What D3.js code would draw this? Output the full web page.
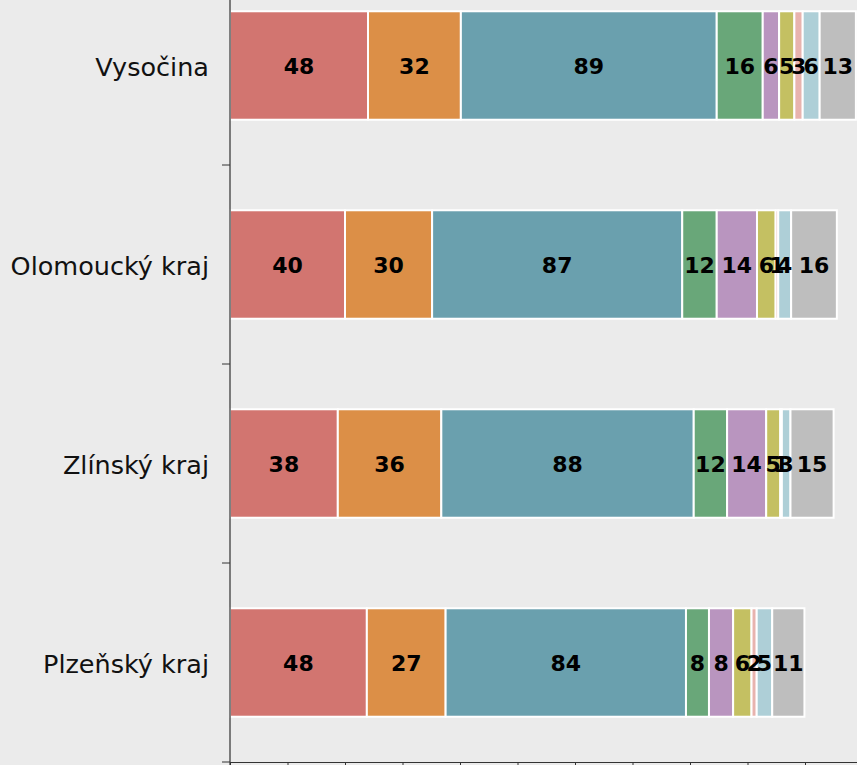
<!DOCTYPE html>
<html>
<head>
<meta charset="utf-8">
<script src="https://cdn.jsdelivr.net/npm/d3@7"></script>
<style>
  html, body { margin: 0; padding: 0; background: #ebebeb; overflow: hidden; }
  svg { display: block; }
  .cat-label { font-family: "DejaVu Sans", Verdana, sans-serif; font-size: 25.5px; fill: #111; }
  .val-label { font-family: "DejaVu Sans", Verdana, sans-serif; font-size: 22px; font-weight: bold; fill: #000; }
</style>
</head>
<body>
<div id="chart"></div>
<script>
// 데이터 (위에서 아래 순서)
const regions = ["Vysočina", "Olomoucký kraj", "Zlínský kraj", "Plzeňský kraj"];
const seriesKeys = ["s1", "s2", "s3", "s4", "s5", "s6", "s7", "s8", "s9"];
const seriesColors = ["#d27570", "#dc8f47", "#6aa0ae", "#69a779", "#b995bf", "#c4c062", "#e8b3ae", "#aecfd7", "#bebebe"];

// 각 지역의 구간 값
const vysocina  = [48.0, 32.3, 89.0, 16.0, 5.7, 5.3, 2.9, 5.9, 12.6];
const olomoucky = [40.0, 30.3, 87.0, 12.0, 14.0, 6.49, 0.9, 4.49, 15.9];
const zlinsky   = [37.5, 36.0, 87.8, 11.6, 13.6, 4.9, 0.55, 3.0, 15.0];
const plzensky  = [47.6, 27.4, 83.6, 8.0, 8.4, 6.4, 1.8, 5.4, 11.2];

const xTicks = [0, 20, 40, 60, 80, 100, 120, 140, 160, 180, 200, 220];

(() => {
  const W = 857, H = 765;
  const rows = [vysocina, olomoucky, zlinsky, plzensky];

  const svg = d3.select("#chart").append("svg")
    .attr("width", W).attr("height", H)
    .attr("viewBox", `0 0 ${W} ${H}`);

  svg.append("rect").attr("width", W).attr("height", H).attr("fill", "#ebebeb");

  const x = d3.scaleLinear().domain([0, 220]).range([230, 862.5]);
  const y = d3.scaleBand().domain(regions).range([-34, 762])
    .paddingInner(0.455).paddingOuter(0.2275);

  // 스택 데이터
  const table = regions.map((r, i) => {
    const o = { region: r };
    seriesKeys.forEach((k, j) => o[k] = rows[i][j]);
    return o;
  });
  const stacked = d3.stack().keys(seriesKeys)(table);

  const layer = svg.selectAll("g.layer").data(stacked).join("g")
    .attr("class", "layer")
    .attr("fill", (d, i) => seriesColors[i]);

  layer.selectAll("rect").data(d => d).join("rect")
    .attr("x", d => x(d[0]))
    .attr("y", d => y(d.data.region))
    .attr("width", d => Math.max(0, x(d[1]) - x(d[0])))
    .attr("height", y.bandwidth())
    .attr("stroke", "#fff")
    .attr("stroke-width", 2);

  // 값 라벨
  const labels = svg.append("g");
  stacked.forEach(s => {
    s.forEach(d => {
      labels.append("text")
        .attr("class", "val-label")
        .attr("x", (x(d[0]) + x(d[1])) / 2)
        .attr("y", y(d.data.region) + y.bandwidth() / 2 + 1)
        .attr("text-anchor", "middle")
        .attr("dominant-baseline", "central")
        .text(d3.format(".0f")(d[1] - d[0]));
    });
  });

  // 축
  const axisColor = "#555";
  svg.append("line")
    .attr("x1", x(0)).attr("x2", x(0))
    .attr("y1", 0).attr("y2", H)
    .attr("stroke", axisColor).attr("stroke-width", 1.5);

  // y축 눈금 (카테고리 경계)
  const boundaries = regions.map(r => y(r) + y.bandwidth() / 2 + y.step() / 2);
  svg.append("g").selectAll("line").data(boundaries).join("line")
    .attr("x1", x(0) - 8).attr("x2", x(0))
    .attr("y1", d => d).attr("y2", d => d)
    .attr("stroke", "#333").attr("stroke-width", 1);

  // 카테고리 라벨
  svg.append("g").selectAll("text").data(regions).join("text")
    .attr("class", "cat-label")
    .attr("x", 209)
    .attr("y", d => y(d) + y.bandwidth() / 2 + 1)
    .attr("text-anchor", "end")
    .attr("dominant-baseline", "central")
    .text(d => d);

  // x축 (하단) - 눈금 라벨은 화면 밖
  const xAxis = svg.append("g")
    .attr("transform", `translate(0,${boundaries[boundaries.length - 1]})`)
    .call(d3.axisBottom(x).tickValues(xTicks).tickSize(4).tickSizeOuter(0).tickFormat(""));
  xAxis.select(".domain").attr("stroke", "#333");
  xAxis.selectAll(".tick line").attr("stroke", "#333");
})();
</script>
</body>
</html>
